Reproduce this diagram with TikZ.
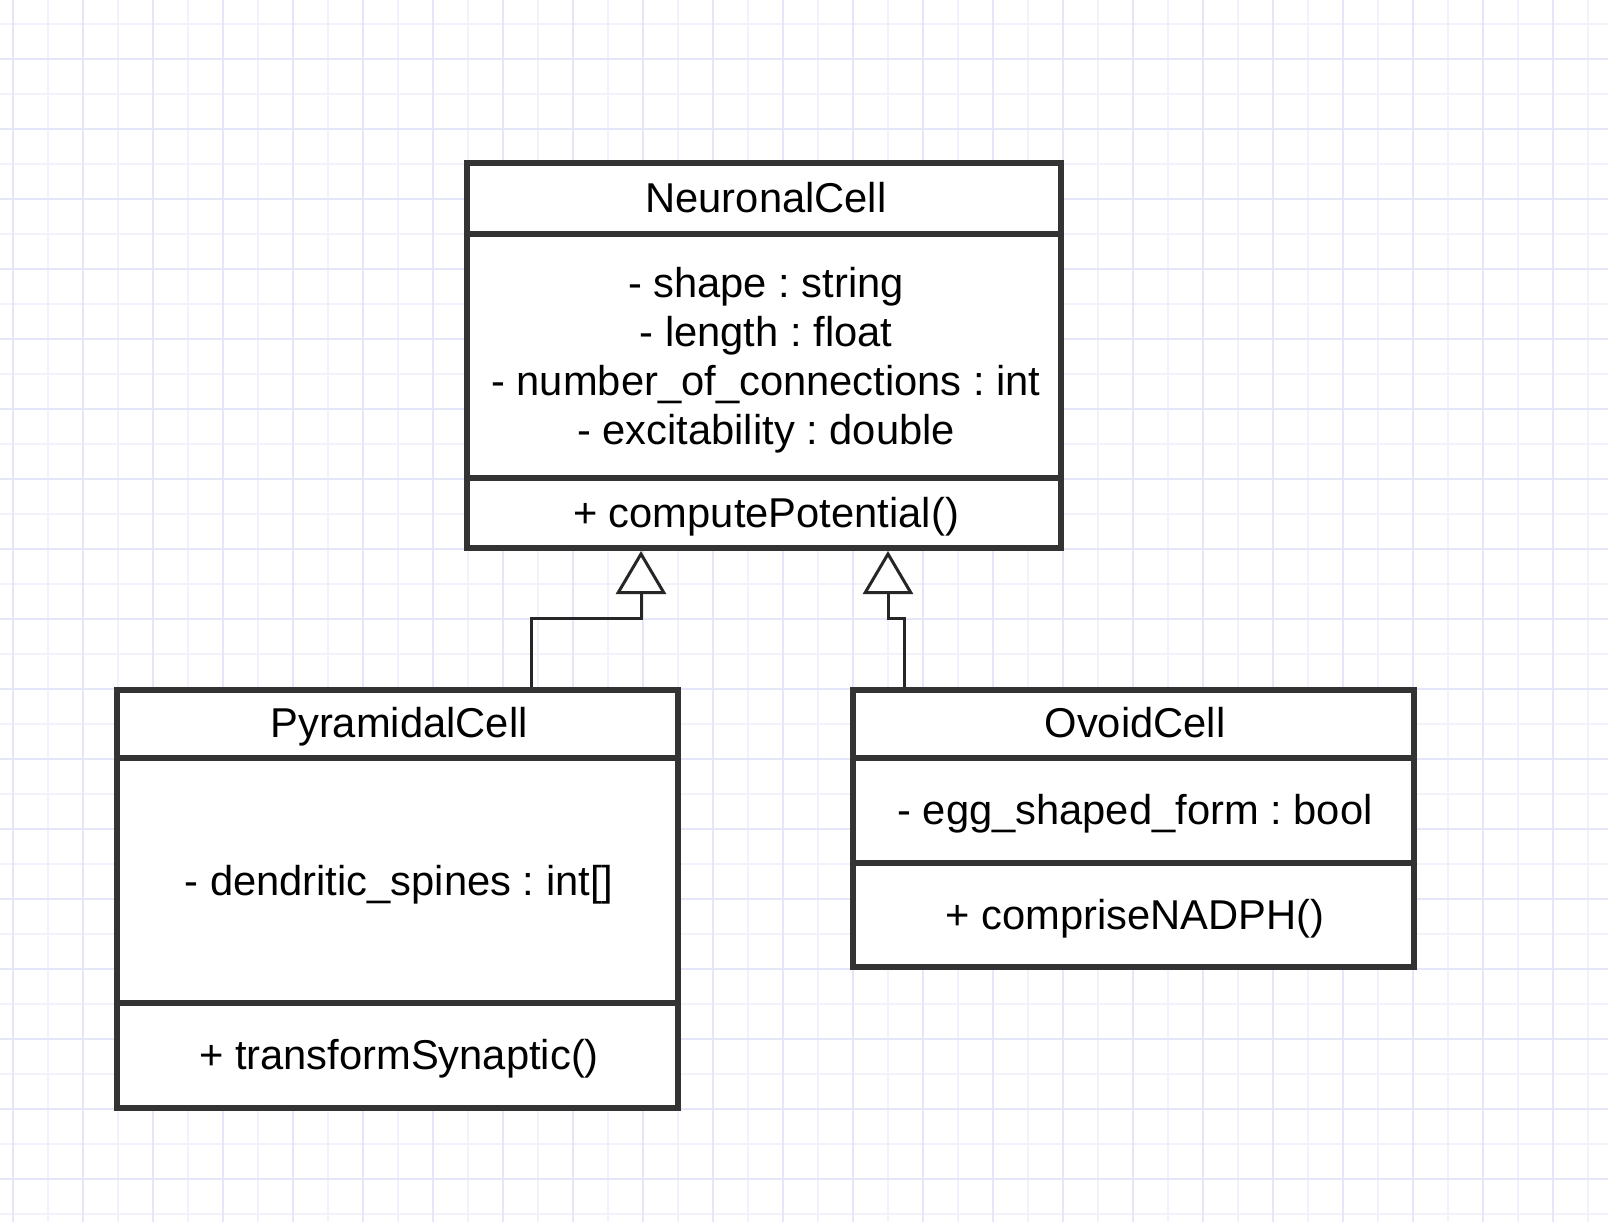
\documentclass[tikz,border=0pt]{standalone}
\usepackage{fontspec}
\setmainfont{Liberation Sans}
\usetikzlibrary{arrows.meta}
\definecolor{bord}{HTML}{333333}
\definecolor{gridmaj}{RGB}{230,230,250}
\definecolor{gridmin}{RGB}{242,242,252}
\tikzset{
  umlbox/.style={draw=bord, line width=3pt, fill=white, inner sep=0pt},
  divider/.style={draw=bord, line width=3pt},
  txt/.style={font=\fontsize{20.85}{24.5}\selectfont\frenchspacing, align=center, inner sep=0pt, text=black},
  one/.style={txt, text height=14.93pt, text depth=0pt},
  inh/.style={draw=black!85, line width=1.5pt, -{Triangle[length=21.5pt,width=25pt,fill=white]}},
}
\begin{document}
\begin{tikzpicture}[x=0.5pt,y=-0.5pt]
\useasboundingbox (0,0) rectangle (1608,1222);
\fill[white] (0,0) rectangle (1608,1222);
% grid
\foreach \x in {48,118,...,1608} \draw[gridmin, line width=1pt] (\x,0) -- (\x,1222);
\foreach \y in {24,94,...,1222} \draw[gridmin, line width=1pt] (0,\y) -- (1608,\y);
\foreach \x in {13,83,...,1608} \draw[gridmaj, line width=1pt] (\x,0) -- (\x,1222);
\foreach \y in {59,129,...,1222} \draw[gridmaj, line width=1pt] (0,\y) -- (1608,\y);

% NeuronalCell
\node[umlbox, minimum width=297pt, minimum height=192.5pt] (N) at (764,355.5) {};
\draw[divider] (N.west |- 0,234) -- (N.east |- 0,234);
\draw[divider] (N.west |- 0,478) -- (N.east |- 0,478);
\node[one] (Nt) at (766,198) {NeuronalCell};
\node[txt] (Na) at (766,360) {- shape : string\\- length : float\\- number\_of\_connections : int\\- excitability : double};
\node[one] (Nm) at (766,513) {+ computePotential()};

% PyramidalCell
\node[umlbox, minimum width=280.5pt, minimum height=209pt] (P) at (397.5,899) {};
\draw[divider] (P.west |- 0,758) -- (P.east |- 0,758);
\draw[divider] (P.west |- 0,1003) -- (P.east |- 0,1003);
\node[one] (Pt) at (399,723) {PyramidalCell};
\node[one] (Pa) at (399,881) {- dendritic\_spines : int[]};
\node[one] (Pm) at (399,1055) {+ transformSynaptic()};

% OvoidCell
\node[umlbox, minimum width=280.5pt, minimum height=138.5pt] (O) at (1133.5,828.5) {};
\draw[divider] (O.west |- 0,758) -- (O.east |- 0,758);
\draw[divider] (O.west |- 0,863) -- (O.east |- 0,863);
\node[one] (Ot) at (1135,723) {OvoidCell};
\node[one] (Oa) at (1135,810) {- egg\_shaped\_form : bool};
\node[one] (Om) at (1135,915) {+ compriseNADPH()};

% inheritance connectors
\coordinate (a1) at (531,618);
\coordinate (t1) at (641,594);
\coordinate (a2) at (904,618);
\coordinate (t2) at (888,594);
\draw[inh] (P.north -| a1) -- (a1) -| (N.south -| t1);
\draw[inh] (O.north -| a2) -- (a2) -| (N.south -| t2);
\end{tikzpicture}
\end{document}
